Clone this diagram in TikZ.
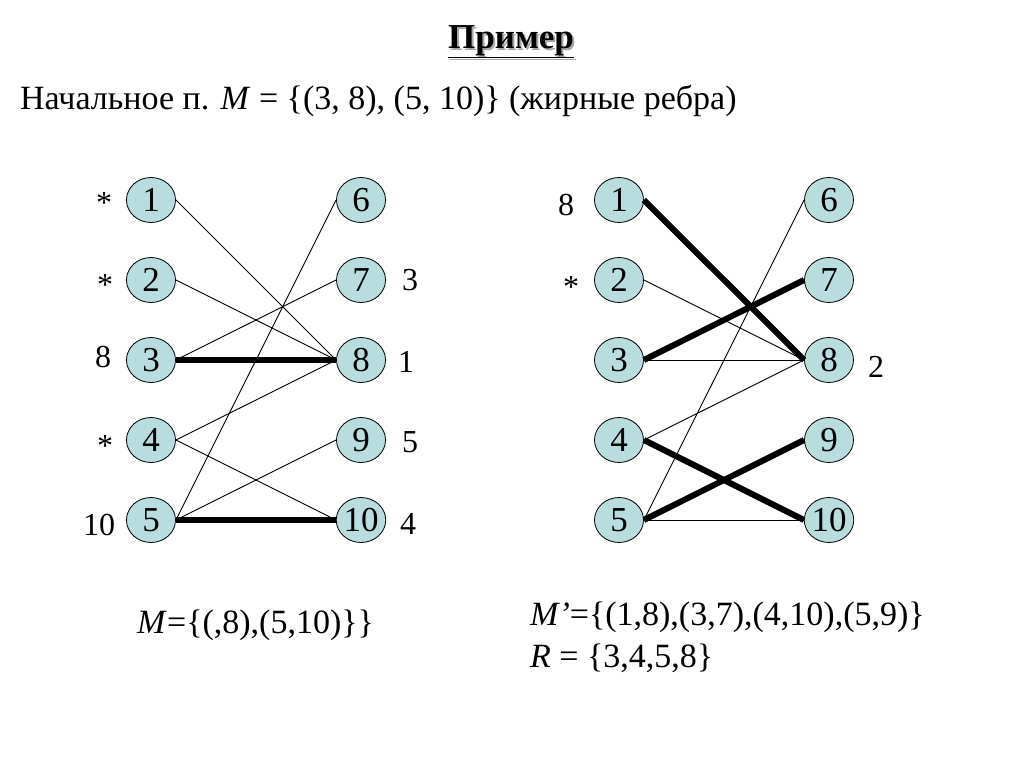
\documentclass[tikz,border=0pt]{standalone}
\usepackage{fontspec}
\setmainfont{Liberation Serif}
\usetikzlibrary{shapes.geometric}
\definecolor{nodefill}{RGB}{185,220,222}
\tikzset{
  vtx/.style={ellipse,draw=black,line width=0.8pt,fill=nodefill,minimum width=49pt,minimum height=45pt,inner sep=0pt,font=\fontsize{35}{37}\selectfont},
  thin edge/.style={line width=0.9pt},
  thick edge/.style={line width=6pt},
  lbl/.style={font=\fontsize{32}{34}\selectfont,inner sep=0pt},
  txt/.style={font=\fontsize{34}{38}\selectfont,inner sep=0pt,anchor=west}
}
\begin{document}
\begin{tikzpicture}[x=1pt,y=-1pt]
\useasboundingbox (0,0) rectangle (1024,768);
% title
\node[font=\fontsize{35}{37}\selectfont\bfseries,text=gray!70,inner sep=0pt] (tsh) at (513,44) {\underline{Пример}};
\node[font=\fontsize{35}{37}\selectfont\bfseries,inner sep=0pt] (title) at (511,42) {\underline{Пример}};
\node[txt] (intro) at (20,101) {Начальное п. \textit{M} = \{(3, 8), (5, 10)\} (жирные ребра)};
% left graph
\foreach \i/\y in {1/200,2/280,3/360,4/440,5/520} {
  \node[vtx] (a\i) at (151,\y) {\i};
}
\foreach \i/\y in {6/200,7/280,8/360,9/440,10/520} {
  \node[vtx] (a\i) at (361,\y) {\i};
}
\foreach \u/\v in {1/8,2/8,3/7,4/8,4/10,5/6,5/9} {
  \draw[thin edge] (a\u.east) -- (a\v.west);
}
\draw[thick edge] (a3.east) -- (a8.west);
\draw[thick edge] (a5.east) -- (a10.west);
% left labels
\node[lbl] (la1) at (104,203) {*};
\node[lbl] (la2) at (105,285) {*};
\node[lbl] (la3) at (103,357) {8};
\node[lbl] (la4) at (105,446) {*};
\node[lbl] (la5) at (99,525) {10};
\node[lbl] (ra7) at (410,280) {3};
\node[lbl] (ra8) at (406,362) {1};
\node[lbl] (ra9) at (410,442) {5};
\node[lbl] (ra10) at (408,524) {4};
% right graph
\foreach \i/\y in {1/200,2/280,3/360,4/440,5/520} {
  \node[vtx] (b\i) at (619,\y) {\i};
}
\foreach \i/\y in {6/200,7/280,8/360,9/440,10/520} {
  \node[vtx] (b\i) at (829,\y) {\i};
}
\foreach \u/\v in {2/8,3/8,4/8,5/6,5/10} {
  \draw[thin edge] (b\u.east) -- (b\v.west);
}
\foreach \u/\v in {1/8,3/7,4/10,5/9} {
  \draw[thick edge] (b\u.east) -- (b\v.west);
}
\node[lbl] (lb1) at (566,205) {8};
\node[lbl] (lb2) at (571,287) {*};
\node[lbl] (rb8) at (876,367) {2};
% bottom texts
\node[txt] (mleft) at (137,625) {\textit{M}=\{(,8),(5,10)\}\}};
\node[txt] (mright) at (530,617) {\textit{M’}=\{(1,8),(3,7),(4,10),(5,9)\}};
\node[txt] (rset) at (530,658) {\textit{R} = \{3,4,5,8\}};
\end{tikzpicture}
\end{document}
